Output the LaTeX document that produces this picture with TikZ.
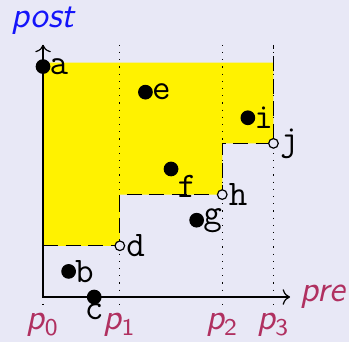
\documentclass[tikz,border=0pt]{standalone}
\usepackage{tikz}
\usetikzlibrary{calc}
\usepackage{tkz-euclide}
\definecolor{bgc}{RGB}{232,232,246}
\definecolor{maroonx}{RGB}{176,48,96}
\definecolor{bluex}{RGB}{20,20,250}

\begin{document}
\begin{tikzpicture}[x=0.3cm, y=0.3cm,
    lbl/.style={font=\large\ttfamily, inner sep=2pt},
    axlbl/.style={font=\large\sffamily\itshape}]
                \fill[bgc] (-1.68,-1.76) rectangle (11.95,11.6);
                \useasboundingbox (-1.68,-1.76) rectangle (11.95,11.6);
                \tkzDefPoint(0,0){O}
                \tkzDefPoint(9.65,0){X}
                \tkzDefPoint(0,9.85){Y}
                \tkzDefPoint(0,9){a}
                \tkzDefPoint(1,1){b}
                \tkzDefPoint(2,0){c}
                \tkzDefPoint(3,2){d}
                \tkzDefPoint(4,8){e}
                \tkzDefPoint(5,5){f}
                \tkzDefPoint(6,3){g}
                \tkzDefPoint(7,4){h}
                \tkzDefPoint(8,7){i}
                \tkzDefPoint(9,6){j}
                \coordinate (d') at (d |- 0,4);
                \coordinate (h') at (h |- 0,6);
                \coordinate (j') at (j |- Y);
                % the region above the staircase
                \fill[yellow] (0,2) -- (d) -- (d') -- (h) -- (h') -- (j) -- (9,9.15) -- (0,9.15) -- cycle;
                \foreach \x/\n in {0/0,3/1,7/2,9/3}{
                    \coordinate (top\n) at (\x,9.85);
                    \coordinate (bot\n) at (\x,-0.5);
                    \draw[dotted] (top\n) -- (bot\n);
                    \node[axlbl, text=maroonx, below, inner sep=1pt] (p\n) at (bot\n) {p\textsubscript{\upshape\n}};
                }
                \draw[->] (O) -- (X);
                \draw[->] (O) -- (Y);
                \node[axlbl, text=maroonx, right] (pre) at (X) {pre};
                \node[axlbl, text=bluex, above] (post) at (Y) {post};
                \draw[dashed, dash pattern=on 5pt off 2.5pt] (0,2) -- (d) -- (d') -- (h) -- (h') -- (j) -- (j');
                \tkzDrawPoints[fill=black, size=4.5](a,b,c,e,f,g,i)
                \tkzDrawPoints[fill=bgc, size=3.2](d,h,j)
                \node[lbl, right] (la) at (a) {a};
                \node[lbl, right] (lb) at (b) {b};
                \node[lbl, below] (lc) at (c) {c};
                \node[lbl, right] (ld) at (d) {d};
                \node[lbl, right] (le) at (e) {e};
                \node[lbl, below right] (lf) at (f) {f};
                \node[lbl, right] (lg) at (g) {g};
                \node[lbl, right] (lh) at (h) {h};
                \node[lbl, right] (li) at (i) {i};
                \node[lbl, right] (lj) at (j) {j};
            \end{tikzpicture}
\end{document}
